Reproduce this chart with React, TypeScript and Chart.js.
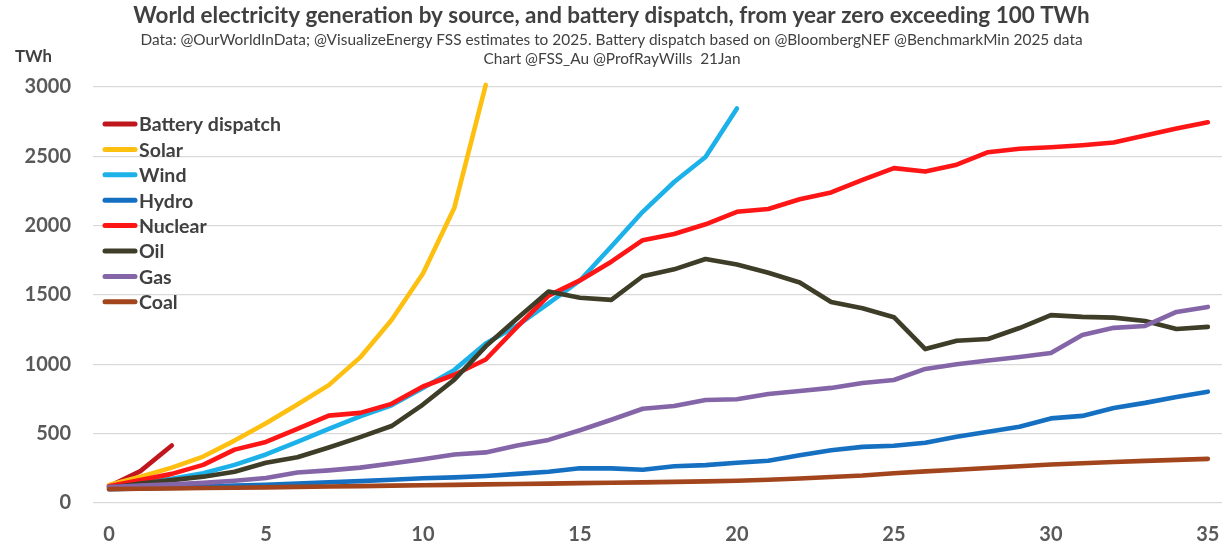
import React, { useEffect, useRef } from "react";
import { Chart, registerables } from "chart.js";

Chart.register(...registerables);

const TITLE = "World electricity generation by source, and battery dispatch, from year zero exceeding 100 TWh";
const SUBTITLE_1 = "Data: @OurWorldInData; @VisualizeEnergy FSS estimates to 2025. Battery dispatch based on @BloombergNEF @BenchmarkMin 2025 data";
const SUBTITLE_2 = "Chart @FSS_Au @ProfRayWills  21Jan";
const Y_UNIT = "TWh";

const years = [0, 1, 2, 3, 4, 5, 6, 7, 8, 9, 10, 11, 12, 13, 14, 15, 16, 17, 18, 19, 20, 21, 22, 23, 24, 25, 26, 27, 28, 29, 30, 31, 32, 33, 34, 35];

const seriesNames = ["Battery dispatch", "Solar", "Wind", "Hydro", "Nuclear", "Oil", "Gas", "Coal"];
const seriesColors = ["#C0161E", "#FDC010", "#1DB1EA", "#1570C2", "#FE1515", "#3E3D28", "#8466A8", "#A2451C"];

const battery = [120, 230, 415];
const solar = [130, 190, 255, 335, 450, 575, 710, 850, 1050, 1320, 1655, 2130, 3015];
const wind = [120, 145, 175, 215, 275, 350, 440, 535, 625, 705, 830, 960, 1150, 1280, 1440, 1605, 1850, 2100, 2315, 2495, 2845];
const hydro = [100, 105, 110, 118, 125, 132, 140, 150, 158, 168, 178, 185, 195, 210, 225, 250, 250, 240, 265, 273, 290, 305, 345, 380, 405, 413, 435, 478, 514, 550, 610, 628, 685, 722, 765, 803];
const nuclear = [120, 165, 210, 275, 385, 440, 535, 630, 650, 715, 840, 925, 1035, 1270, 1495, 1605, 1740, 1895, 1940, 2010, 2100, 2120, 2190, 2240, 2330, 2415, 2390, 2440, 2530, 2555, 2565, 2580, 2600, 2650, 2700, 2745];
const oil = [110, 140, 165, 190, 225, 290, 330, 400, 475, 555, 710, 890, 1130, 1330, 1525, 1480, 1465, 1635, 1685, 1760, 1720, 1660, 1590, 1450, 1405, 1340, 1110, 1170, 1183, 1262, 1355, 1342, 1337, 1313, 1255, 1270];
const gas = [115, 125, 135, 145, 160, 180, 220, 235, 255, 285, 315, 350, 365, 415, 455, 525, 600, 680, 700, 743, 748, 786, 808, 830, 865, 887, 967, 1000, 1027, 1053, 1082, 1212, 1263, 1277, 1378, 1414];
const coal = [100, 103, 105, 108, 110, 113, 116, 119, 122, 125, 128, 131, 134, 137, 140, 143, 146, 149, 152, 156, 161, 168, 177, 187, 198, 215, 228, 240, 252, 265, 278, 287, 296, 304, 311, 318];

const seriesValues = [battery, solar, wind, hydro, nuclear, oil, gas, coal];

const yTicks = [0, 500, 1000, 1500, 2000, 2500, 3000];
const xTicks = [0, 5, 10, 15, 20, 25, 30, 35];

const FONT = "Lato, 'Open Sans', 'DejaVu Sans', sans-serif";
const TEXT_DARK = "#404040";
const TEXT_TICK = "#595959";

function fitSize(ctx: CanvasRenderingContext2D, text: string, weight: string, target: number) {
  ctx.font = `${weight} 100px ${FONT}`;
  const w = ctx.measureText(text).width;
  return (100 * target) / w;
}

const textPlugin = {
  id: "textPlugin",
  afterDraw(chart: any) {
    const ctx: CanvasRenderingContext2D = chart.ctx;
    ctx.save();
    ctx.fillStyle = TEXT_DARK;
    ctx.textAlign = "center";
    ctx.textBaseline = "alphabetic";
    let s = fitSize(ctx, TITLE, "bold", 957);
    ctx.font = `bold ${s}px ${FONT}`;
    ctx.fillText(TITLE, 611.5, 23);
    s = fitSize(ctx, SUBTITLE_1, "normal", 943);
    ctx.font = `normal ${s}px ${FONT}`;
    ctx.fillText(SUBTITLE_1, 611.5, 45);
    ctx.fillText(SUBTITLE_2, 612, 64);

    ctx.textAlign = "left";
    const ts = fitSize(ctx, Y_UNIT, "bold", 37);
    ctx.font = `bold ${ts}px ${FONT}`;
    ctx.fillText(Y_UNIT, 15, 62);

    // legend
    const ls = fitSize(ctx, seriesNames[0], "bold", 142);
    ctx.font = `bold ${ls}px ${FONT}`;
    ctx.textBaseline = "middle";
    chart.data.datasets.forEach((ds: any, i: number) => {
      const y = 124 + i * 25.4;
      ctx.strokeStyle = ds.borderColor;
      ctx.lineWidth = 5;
      ctx.lineCap = "round";
      ctx.beginPath();
      ctx.moveTo(105, y);
      ctx.lineTo(135, y);
      ctx.stroke();
      ctx.fillStyle = TEXT_DARK;
      ctx.fillText(ds.label, 139, y + 1);
    });
    ctx.restore();
  },
};

export default function App() {
  const ref = useRef<HTMLCanvasElement | null>(null);
  useEffect(() => {
    document.body.style.margin = "0";
    const canvas = ref.current!;
    const datasets = seriesNames.map((name, i) => ({
      label: name,
      data: seriesValues[i].map((v, j) => ({ x: years[j], y: v })),
      borderColor: seriesColors[i],
      backgroundColor: seriesColors[i],
      borderWidth: 4.6,
      borderCapStyle: "round" as const,
      borderJoinStyle: "round" as const,
      pointRadius: 0,
      tension: 0,
      fill: false,
      clip: false as const,
      order: seriesNames.length - i,
    }));
    const chart = new Chart(canvas, {
      type: "line",
      data: { datasets },
      options: {
        animation: false,
        responsive: false,
        devicePixelRatio: 1,
        layout: { padding: { top: 87, right: 6, left: 0, bottom: 0 } },
        plugins: { legend: { display: false }, title: { display: false }, tooltip: { enabled: false } },
        scales: {
          x: {
            type: "linear",
            min: 0,
            max: 35.45,
            afterBuildTicks: (scale: any) => {
              scale.ticks = xTicks.map((v) => ({ value: v }));
            },
            afterFit: (scale: any) => {
              scale.height = 46;
              scale.paddingLeft = 0;
              scale.paddingRight = 0;
            },
            grid: { display: false, drawTicks: false },
            border: { display: false },
            ticks: {
              padding: 20,
              color: TEXT_TICK,
              font: { family: FONT, size: 20, weight: "bold" },
              maxRotation: 0,
              autoSkip: false,
              callback: (v: any) => String(v),
            },
          },
          y: {
            type: "linear",
            min: 0,
            max: 3000,
            afterBuildTicks: (scale: any) => {
              scale.ticks = yTicks.map((v) => ({ value: v }));
            },
            afterFit: (scale: any) => {
              scale.width = 109;
            },
            grid: { color: "#D9D9D9", lineWidth: 1.2, tickLength: 16, drawTicks: true },
            border: { display: false },
            ticks: {
              padding: 22,
              color: TEXT_TICK,
              font: { family: FONT, size: 20, weight: "bold" },
              callback: (v: any) => String(v),
            },
          },
        },
      },
      plugins: [textPlugin],
    });
    return () => chart.destroy();
  }, []);
  return (
    <div style={{ position: "fixed", left: 0, top: 0, width: 1228, height: 549, background: "#fff" }}>
      <canvas ref={ref} width={1228} height={549} style={{ width: 1228, height: 549, display: "block" }} />
    </div>
  );
}
